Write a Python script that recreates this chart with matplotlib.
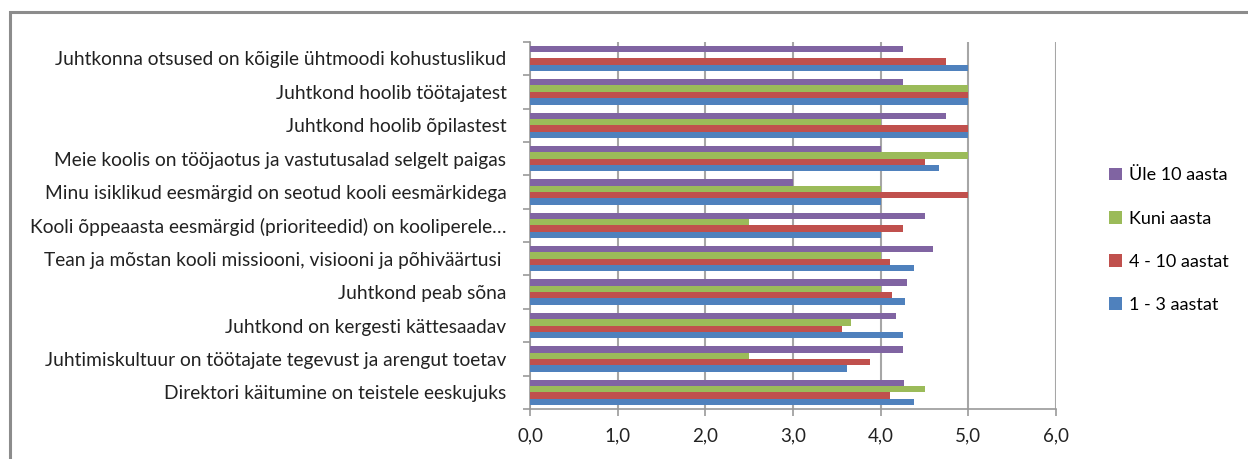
import numpy as np
import matplotlib.pyplot as plt
from matplotlib.patches import Rectangle

# küsimused ülevalt alla
categories = [
    'Juhtkonna otsused on kõigile ühtmoodi kohustuslikud',
    'Juhtkond hoolib töötajatest',
    'Juhtkond hoolib õpilastest',
    'Meie koolis on tööjaotus ja vastutusalad selgelt paigas',
    'Minu isiklikud eesmärgid on seotud kooli eesmärkidega',
    'Kooli õppeaasta eesmärgid (prioriteedid) on kooliperele…',
    'Tean ja mõstan kooli missiooni, visiooni ja põhiväärtusi ',
    'Juhtkond peab sõna',
    'Juhtkond on kergesti kättesaadav',
    'Juhtimiskultuur on töötajate tegevust ja arengut toetav',
    'Direktori käitumine on teistele eeskujuks',
]

aastat_1_3 = [5.0, 5.0, 5.0, 4.67, 4.0, 4.0, 4.38, 4.28, 4.25, 3.61, 4.38]
aastat_4_10 = [4.75, 5.0, 5.0, 4.5, 5.0, 4.25, 4.11, 4.13, 3.56, 3.88, 4.11]
kuni_aasta = [0.0, 5.0, 4.0, 5.0, 4.0, 2.5, 4.0, 4.0, 3.66, 2.5, 4.5]
yle_10 = [4.25, 4.25, 4.75, 4.0, 3.0, 4.5, 4.6, 4.3, 4.17, 4.25, 4.27]

series = [
    ('1 - 3 aastat', aastat_1_3, '#4F81BD'),
    ('4 - 10 aastat', aastat_4_10, '#C0504D'),
    ('Kuni aasta', kuni_aasta, '#9BBB59'),
    ('Üle 10 aasta', yle_10, '#8064A2'),
]

plt.rcParams['font.family'] = ['Lato', 'DejaVu Sans']

fig = plt.figure(figsize=(12.48, 4.59), dpi=100)
ax = fig.add_axes([0.4247, 0.109, 0.4215, 0.800])

n = len(categories)
y = np.arange(n)[::-1]  # esimene kategooria üleval
bh = 0.19
for i, (name, vals, col) in enumerate(series):
    ax.barh(y + (i - 1.5) * bh, vals, height=bh, color=col, label=name,
            zorder=3)

ax.set_xlim(0, 6)
ax.set_ylim(-0.5, n - 0.5)
ax.set_xticks(range(7))
ax.set_xticklabels([f'{v},0' for v in range(7)], fontsize=13.5,
                   color='#222222')
ax.set_yticks(y)
ax.set_yticklabels(categories, fontsize=13.8, color='#222222')
ax.set_yticks(np.arange(-0.5, n, 1), minor=True)
ax.tick_params(axis='y', which='major', length=0, pad=17)
ax.tick_params(axis='y', which='minor', length=5, color='#999999',
               width=1.2)
ax.tick_params(axis='x', length=5, color='#999999', width=1.2, pad=8)

ax.grid(axis='x', color='#A6A6A6', linewidth=1.5, zorder=0)
for s in ['top', 'right']:
    ax.spines[s].set_visible(False)
for s in ['left', 'bottom']:
    ax.spines[s].set_color('#999999')
    ax.spines[s].set_linewidth(1.2)

handles, labels = ax.get_legend_handles_labels()
fig.legend(handles[::-1], labels[::-1], loc='center left',
           bbox_to_anchor=(0.876, 0.477), frameon=False, fontsize=13,
           handlelength=0.7, handleheight=0.7, labelspacing=1.5,
           handletextpad=0.4)

# raam ümber diagrammi
fig.patches.append(Rectangle((10 / 1248, -0.1), 1.1, 1.1 - 12 / 459,
                             transform=fig.transFigure, fill=False,
                             edgecolor='#8C8C8C', linewidth=2.2))

fig.savefig('out.png', dpi=100)
